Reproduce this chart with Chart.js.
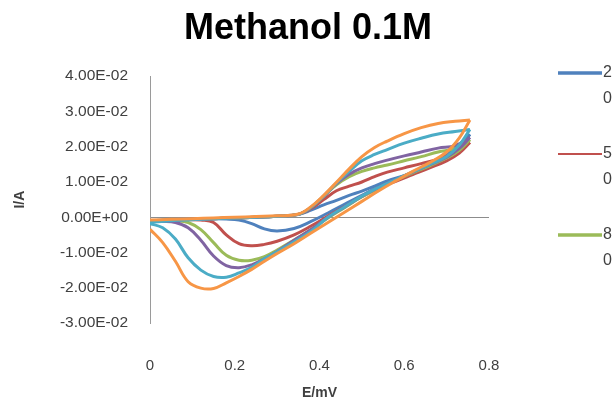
<!DOCTYPE html>
<html><head><meta charset="utf-8">
<script src="https://cdn.jsdelivr.net/npm/chart.js@4"></script>
<style>html,body{margin:0;padding:0;background:#fff;overflow:hidden}</style>
</head><body>
<canvas id="c" width="616" height="411"></canvas>
<script>
// Potential grid (V): forward scan and reverse scan
const eForward = [0, 0.05, 0.1, 0.15, 0.2, 0.25, 0.3, 0.35, 0.38, 0.41, 0.44, 0.47, 0.5, 0.53, 0.56, 0.6, 0.64, 0.68, 0.72, 0.755];
const eReverse = [0.73, 0.7, 0.66, 0.62, 0.58, 0.54, 0.5, 0.46, 0.42, 0.38, 0.34, 0.3, 0.27, 0.24, 0.21, 0.18, 0.15, 0.12, 0.09, 0.06, 0.03, 0];

// Currents (A)
const blueFwd   = [-0.0010,-0.0008,-0.0006,-0.0004,-0.0002,0.0000,0.0003,0.0008,0.0020,0.0035,0.0048,0.0062,0.0074,0.0088,0.0103,0.0118,0.0135,0.0160,0.0195,0.0235];
const blueRev   = [0.0198,0.0170,0.0146,0.0126,0.0106,0.0086,0.0062,0.0037,0.0012,-0.0012,-0.0032,-0.0039,-0.0033,-0.0018,-0.0008,-0.0005,-0.0004,-0.0004,-0.0005,-0.0006,-0.0008,-0.0010];
const redFwd    = [-0.0012,-0.0009,-0.0006,-0.0004,-0.0002,0.0000,0.0003,0.0008,0.0025,0.0050,0.0075,0.0088,0.0100,0.0115,0.0128,0.0140,0.0152,0.0165,0.0185,0.0212];
const redRev    = [0.0182,0.0160,0.0140,0.0121,0.0102,0.0082,0.0058,0.0030,0.0003,-0.0025,-0.0050,-0.0068,-0.0077,-0.0081,-0.0075,-0.0050,-0.0015,-0.0008,-0.0007,-0.0008,-0.0010,-0.0012];
const greenFwd  = [-0.0012,-0.0009,-0.0006,-0.0004,-0.0002,0.0000,0.0003,0.0008,0.0028,0.0060,0.0092,0.0115,0.0130,0.0140,0.0148,0.0160,0.0172,0.0185,0.0195,0.0220];
const greenRev  = [0.0190,0.0168,0.0146,0.0126,0.0105,0.0083,0.0058,0.0028,-0.0002,-0.0035,-0.0065,-0.0093,-0.0112,-0.0122,-0.0122,-0.0108,-0.0072,-0.0035,-0.0015,-0.0010,-0.0010,-0.0012];
const purpleFwd = [-0.0012,-0.0009,-0.0006,-0.0004,-0.0002,0.0000,0.0003,0.0008,0.0028,0.0060,0.0095,0.0122,0.0140,0.0152,0.0162,0.0174,0.0185,0.0196,0.0203,0.0226];
const purpleRev = [0.0195,0.0170,0.0149,0.0128,0.0107,0.0085,0.0060,0.0030,0.0000,-0.0035,-0.0065,-0.0097,-0.0118,-0.0135,-0.0143,-0.0137,-0.0110,-0.0065,-0.0030,-0.0015,-0.0012,-0.0012];
const tealFwd   = [-0.0014,-0.0010,-0.0007,-0.0004,-0.0002,0.0000,0.0003,0.0008,0.0028,0.0060,0.0097,0.0130,0.0160,0.0178,0.0192,0.0210,0.0224,0.0236,0.0243,0.0249];
const tealRev   = [0.0205,0.0172,0.0150,0.0129,0.0107,0.0085,0.0060,0.0030,0.0000,-0.0040,-0.0070,-0.0098,-0.0118,-0.0142,-0.0158,-0.0170,-0.0168,-0.0150,-0.0115,-0.0062,-0.0030,-0.0018];
const orangeFwd = [-0.0008,-0.0006,-0.0004,-0.0002,0.0000,0.0002,0.0004,0.0009,0.0030,0.0062,0.0099,0.0137,0.0172,0.0198,0.0216,0.0237,0.0254,0.0266,0.0272,0.0276];
const orangeRev = [0.0225,0.0185,0.0155,0.0130,0.0103,0.0075,0.0045,0.0015,-0.0015,-0.0045,-0.0075,-0.0103,-0.0125,-0.0148,-0.0168,-0.0186,-0.0202,-0.0201,-0.0183,-0.0125,-0.0072,-0.0034];

const seriesLabels = ["20", "50", "80", "110", "140", "170"];
const legendShown = ["20", "50", "80"];
const yTicks = [-0.03, -0.02, -0.01, 0, 0.01, 0.02, 0.03, 0.04];
const xTicks = [0, 0.2, 0.4, 0.6, 0.8];

const colors = ['#4F81BD', '#C0504D', '#9BBB59', '#8064A2', '#4BACC6', '#F79646'];
const fwdSets = [blueFwd, redFwd, greenFwd, purpleFwd, tealFwd, orangeFwd];
const revSets = [blueRev, redRev, greenRev, purpleRev, tealRev, orangeRev];

const datasets = [];
fwdSets.forEach((f, i) => {
  const fwdPts = eForward.map((e, k) => ({x: e, y: f[k]}));
  const tip = fwdPts[fwdPts.length - 1];
  const revPts = [tip].concat(eReverse.map((e, k) => ({x: e, y: revSets[i][k]})));
  [fwdPts, revPts].forEach((pts, j) => datasets.push({
    label: seriesLabels[i] + (j ? ' (reverse)' : ''),
    data: pts,
    borderColor: colors[i],
    backgroundColor: colors[i],
    borderWidth: 3,
    pointRadius: 0,
    tension: 0.4,
    fill: false,
    order: 6 - i
  }));
});

function sci(v) {
  if (Math.abs(v) < 1e-12) v = 0;
  const [m, e] = v.toExponential(2).split('e');
  const sign = e[0] === '-' ? '-' : '+';
  const d = e.replace(/[+-]/, '').padStart(2, '0');
  return m + 'E' + sign + d;
}

const FONT = '"Liberation Sans", Arial, sans-serif';

const sideLegend = {
  id: 'sideLegend',
  afterDraw(chart) {
    const ctx = chart.ctx;
    ctx.save();
    legendShown.forEach((lab, i) => {
      const y = 73 + i * 81;
      ctx.strokeStyle = colors[i];
      ctx.lineWidth = i === 1 ? 2 : 3.5;
      ctx.beginPath();
      ctx.moveTo(558, y);
      ctx.lineTo(602, y);
      ctx.stroke();
      ctx.fillStyle = '#404040';
      ctx.font = '16px ' + FONT;
      ctx.textBaseline = 'middle';
      ctx.textAlign = 'left';
      lab.split('').forEach((ch, k) => ctx.fillText(ch, 603, y + k * 26));
    });
    ctx.restore();
  }
};

new Chart(document.getElementById('c'), {
  type: 'line',
  data: { datasets },
  plugins: [sideLegend],
  options: {
    responsive: false,
    animation: false,
    layout: { padding: 0 },
    plugins: {
      legend: { display: false },
      tooltip: { enabled: false },
      title: {
        display: true,
        text: 'Methanol 0.1M',
        color: '#000',
        font: { family: FONT, size: 36, weight: 'bold' },
        padding: { top: 7, bottom: 26 }
      }
    },
    scales: {
      x: {
        type: 'linear',
        min: 0, max: 0.8,
        afterBuildTicks: s => { s.ticks = xTicks.map(v => ({value: v})); },
        afterFit: s => { s.height = 88; },
        grid: { display: false },
        border: { display: false },
        ticks: {
          padding: 26,
          color: '#404040',
          font: { family: FONT, size: 15 },
          callback: v => String(v)
        },
        title: {
          display: true, text: 'E/mV', color: '#404040',
          font: { family: FONT, size: 14, weight: 'bold' },
          padding: { top: 0, bottom: 9 }
        }
      },
      y: {
        type: 'linear',
        min: -0.03, max: 0.04,
        afterBuildTicks: s => { s.ticks = yTicks.map(v => ({value: v})); },
        afterFit: s => { s.width = 150; },
        grid: {
          drawTicks: false,
          lineWidth: 1,
          color: c => (Math.abs(c.tick.value) < 1e-9 ? '#8c8c8c' : 'rgba(0,0,0,0)')
        },
        border: { display: true, color: '#9a9a9a', width: 1 },
        ticks: {
          padding: 22,
          color: '#404040',
          font: { family: FONT, size: 15.5 },
          callback: v => sci(v)
        },
        title: {
          display: true, text: 'I/A', color: '#404040',
          font: { family: FONT, size: 14, weight: 'bold' },
          padding: { top: 12, bottom: 0 }
        }
      },
      spacer: {
        type: 'linear',
        position: 'right',
        display: true,
        afterFit: s => { s.width = 127; },
        grid: { display: false },
        border: { display: false },
        ticks: { display: false }
      }
    }
  }
});
</script></body></html>
